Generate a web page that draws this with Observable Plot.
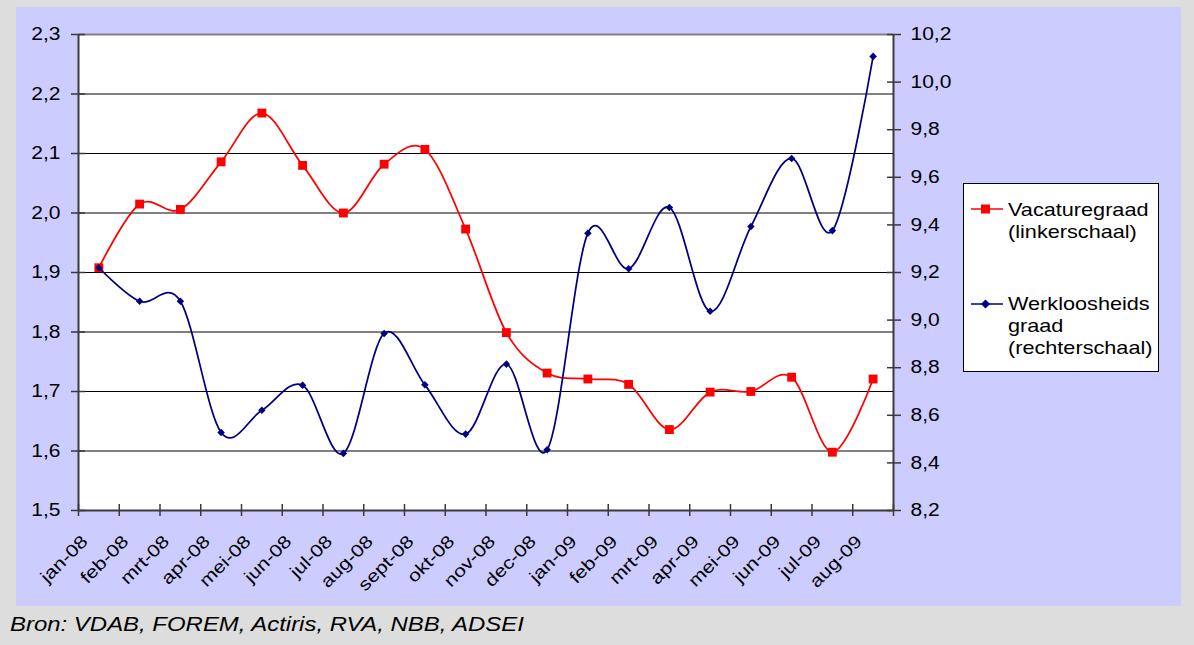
<!DOCTYPE html>
<html>
<head>
<meta charset="utf-8">
<script src="https://cdn.jsdelivr.net/npm/d3@7"></script>
<script src="https://cdn.jsdelivr.net/npm/@observablehq/plot@0.6"></script>
<style>
  html, body { margin: 0; padding: 0; }
  body { background: #dddddd; width: 1194px; height: 645px; position: relative; overflow: hidden;
         font-family: "Liberation Sans", Arial, sans-serif; }
  #panel { position: absolute; left: 16px; top: 7px; width: 1165px; height: 599px; background: #ccccff; }
  #chart { position: absolute; left: 0; top: 0; }
  #legend { position: absolute; left: 947px; top: 176px; width: 194px; height: 187px;
            background: #ffffff; border: 1px solid #000000; }
  .lg-text { position: absolute; left: 44px; font-size: 19px; line-height: 22px; color: #000;
             transform: scaleX(1.14); transform-origin: left top; white-space: nowrap; }
  .lg-swatch { position: absolute; left: 6px; }
  #caption { position: absolute; left: 10px; top: 612px; font-size: 21px; font-style: italic; color: #000;
             transform: scaleX(1.14); transform-origin: left top; white-space: nowrap; line-height: 24px; }
</style>
</head>
<body>
<div id="panel">
  <div id="chart"></div>
  <div id="legend"></div>
</div>
<div id="caption"></div>
<script>
// ---- data ----
const months = ["jan-08","feb-08","mrt-08","apr-08","mei-08","jun-08","jul-08","aug-08","sept-08","okt-08",
                "nov-08","dec-08","jan-09","feb-09","mrt-09","apr-09","mei-09","jun-09","jul-09","aug-09"];
const vacaturegraad = [1.908, 2.015, 2.006, 2.086, 2.168, 2.080, 2.000, 2.082, 2.107, 1.973,
                       1.799, 1.731, 1.721, 1.712, 1.636, 1.699, 1.700, 1.724, 1.598, 1.721];
const werkloosheidsgraad = [9.220, 9.079, 9.079, 8.528, 8.621, 8.726, 8.440, 8.944, 8.728, 8.521,
                            8.815, 8.455, 9.365, 9.216, 9.473, 9.037, 9.393, 9.679, 9.376, 10.108];
const leftTicks = [1.5, 1.6, 1.7, 1.8, 1.9, 2.0, 2.1, 2.2, 2.3];
const rightTicks = [8.2, 8.4, 8.6, 8.8, 9.0, 9.2, 9.4, 9.6, 9.8, 10.0, 10.2];
const legendLabels = [["Vacaturegraad", "(linkerschaal)"], ["Werkloosheids", "graad", "(rechterschaal)"]];
const caption = "Bron: VDAB, FOREM, Actiris, RVA, NBB, ADSEI";

// ---- scales helpers ----
const leftDomain = [leftTicks[0], leftTicks[leftTicks.length - 1]];
const rightDomain = [rightTicks[0], rightTicks[rightTicks.length - 1]];
const toLeft = d3.scaleLinear(rightDomain, leftDomain);
const fmt = v => v.toFixed(1).replace(".", ",");
const idx = months.map((m, i) => i);
const bounds = d3.range(months.length + 1).map(i => i - 0.5);
const gridVals = leftTicks.slice(1, -1);

const RED = "#ff0000", BLUE = "#000080", AXIS = "#3a3a3a";

const plot = Plot.plot({
  width: 1165,
  height: 599,
  marginLeft: 62,
  marginRight: 288,
  marginTop: 27,
  marginBottom: 96,
  style: { background: "transparent", fontFamily: "'Liberation Sans', Arial, sans-serif", fontSize: "17.5px", color: "#000" },
  x: { type: "linear", domain: [bounds[0], bounds[bounds.length - 1]] },
  y: { domain: leftDomain },
  marks: [
    Plot.frame({ fill: "#ffffff", stroke: "none" }),
    Plot.ruleY(gridVals, { stroke: "#000000", strokeWidth: 1 }),
    Plot.ruleY([leftDomain[1]], { stroke: "#808080", strokeWidth: 2 }),
    Plot.ruleY([leftDomain[0]], { stroke: AXIS, strokeWidth: 2 }),
    Plot.ruleX([bounds[0]], { stroke: AXIS, strokeWidth: 2 }),
    Plot.ruleX([bounds[bounds.length - 1]], { stroke: AXIS, strokeWidth: 2 }),
    // crossing tick marks
    Plot.axisX({ ticks: bounds, tickSize: 12, dy: -6, stroke: AXIS, strokeWidth: 1.5, fill: "none", label: null }),
    Plot.axisY({ ticks: leftTicks, tickSize: 14, dx: 7, stroke: AXIS, strokeWidth: 1.5, fill: "none", label: null }),
    Plot.axisY({ anchor: "right", ticks: rightTicks.map(toLeft), tickSize: 14, dx: -7, stroke: AXIS, strokeWidth: 1.5, fill: "none", label: null }),
    // tick labels
    Plot.axisY({ ticks: leftTicks, tickSize: 0, tickPadding: 18, tickFormat: fmt, label: null, fill: "#000" }),
    Plot.axisY({ anchor: "right", ticks: rightTicks.map(toLeft), tickSize: 0, tickPadding: 17,
                 tickFormat: v => fmt(toLeft.invert(v)), label: null, fill: "#000" }),
    Plot.axisX({ ticks: idx, tickSize: 0, tickPadding: 28, tickRotate: -45, dx: -14,
                 tickFormat: i => months[i], label: null, fill: "#000", fontSize: 17.5 }),
    // series
    Plot.line(vacaturegraad, { x: (d, i) => i, y: d => d, stroke: RED, strokeWidth: 1.75, curve: "cardinal", tension: 0 }),
    Plot.dot(vacaturegraad, { x: (d, i) => i, y: d => d, symbol: "square", r: 5, fill: RED, stroke: "none" }),
    Plot.line(werkloosheidsgraad, { x: (d, i) => i, y: d => toLeft(d), stroke: BLUE, strokeWidth: 1.75, curve: "cardinal", tension: 0 }),
    Plot.dot(werkloosheidsgraad, { x: (d, i) => i, y: d => toLeft(d), symbol: "diamond2", r: 3.4, fill: BLUE, stroke: "none" })
  ]
});
document.getElementById("chart").appendChild(plot);

// stretch tick label glyphs horizontally like the original rendering
plot.querySelectorAll("text").forEach(t => {
  const w = t.getComputedTextLength();
  if (w > 0) {
    t.setAttribute("textLength", (w * 1.2).toFixed(2));
    t.setAttribute("lengthAdjust", "spacingAndGlyphs");
  }
});

// legend
const legend = document.getElementById("legend");
const items = [
  { color: RED, lineY: 25, textTop: 15, marker: `<rect x="11" y="4.5" width="9" height="9" fill="${RED}"/>` },
  { color: BLUE, lineY: 120, textTop: 109, marker: `<path d="M15.5 4.5 L20 9 L15.5 13.5 L11 9 Z" fill="${BLUE}"/>` }
];
items.forEach((it, k) => {
  const sw = document.createElement("div");
  sw.className = "lg-swatch";
  sw.style.top = (it.lineY - 9) + "px";
  sw.innerHTML = `<svg width="34" height="18"><line x1="1" x2="33" y1="9" y2="9" stroke="${it.color}" stroke-width="1.5"/>${it.marker}</svg>`;
  legend.appendChild(sw);
  const tx = document.createElement("div");
  tx.className = "lg-text";
  tx.style.top = it.textTop + "px";
  tx.innerHTML = legendLabels[k].join("<br>");
  legend.appendChild(tx);
});
document.getElementById("caption").textContent = caption;
</script>
</body>
</html>
